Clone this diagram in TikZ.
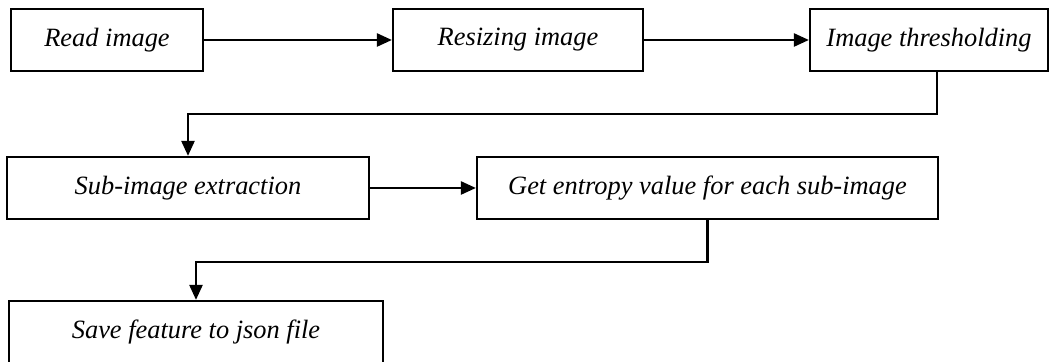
\documentclass[tikz,border=0pt]{standalone}
\usepackage{fontspec}
\setmainfont{Liberation Serif}
\usetikzlibrary{arrows.meta}

\begin{document}
\begin{tikzpicture}
            [
                x=0.5pt, y=-0.5pt,
                stage/.style={draw, line width=1.1pt, minimum height=31pt, inner sep=0pt,
                    font=\itshape\fontsize{13.2}{16}\selectfont},
                flow/.style={->, line width=1.2pt},
                >={Triangle[length=7.5pt, width=6.5pt]}
            ]
            \useasboundingbox (0,0) rectangle (1049,362);
            % first row
            \node[stage, minimum width=96pt] (read) at (107,40) {Read image};
            \node[stage, minimum width=125pt] (resize) at (518,40) {Resizing image};
            \node[stage, minimum width=119pt] (thresh) at (929,40) {Image thresholding};
            % second row
            \node[stage, minimum width=181pt] (subimg) at (188,188) {Sub-image extraction};
            \node[stage, minimum width=230.5pt] (entropy) at (707.5,188) {Get entropy value for each sub-image};
            % third row
            \node[stage, minimum width=187pt] (save) at (196,332) {Save feature to json file};
            \coordinate (turn1) at (937,114);
            \draw[flow] (read) -- (resize);
            \draw[flow] (resize) -- (thresh);
            \draw[flow] (thresh.south -| turn1) -- (turn1) -| (subimg.north);
            \draw[flow] (subimg) -- (entropy);
            \draw[flow] (entropy.south) -- ++(0,42) -| (save.north);
\end{tikzpicture}
\end{document}
